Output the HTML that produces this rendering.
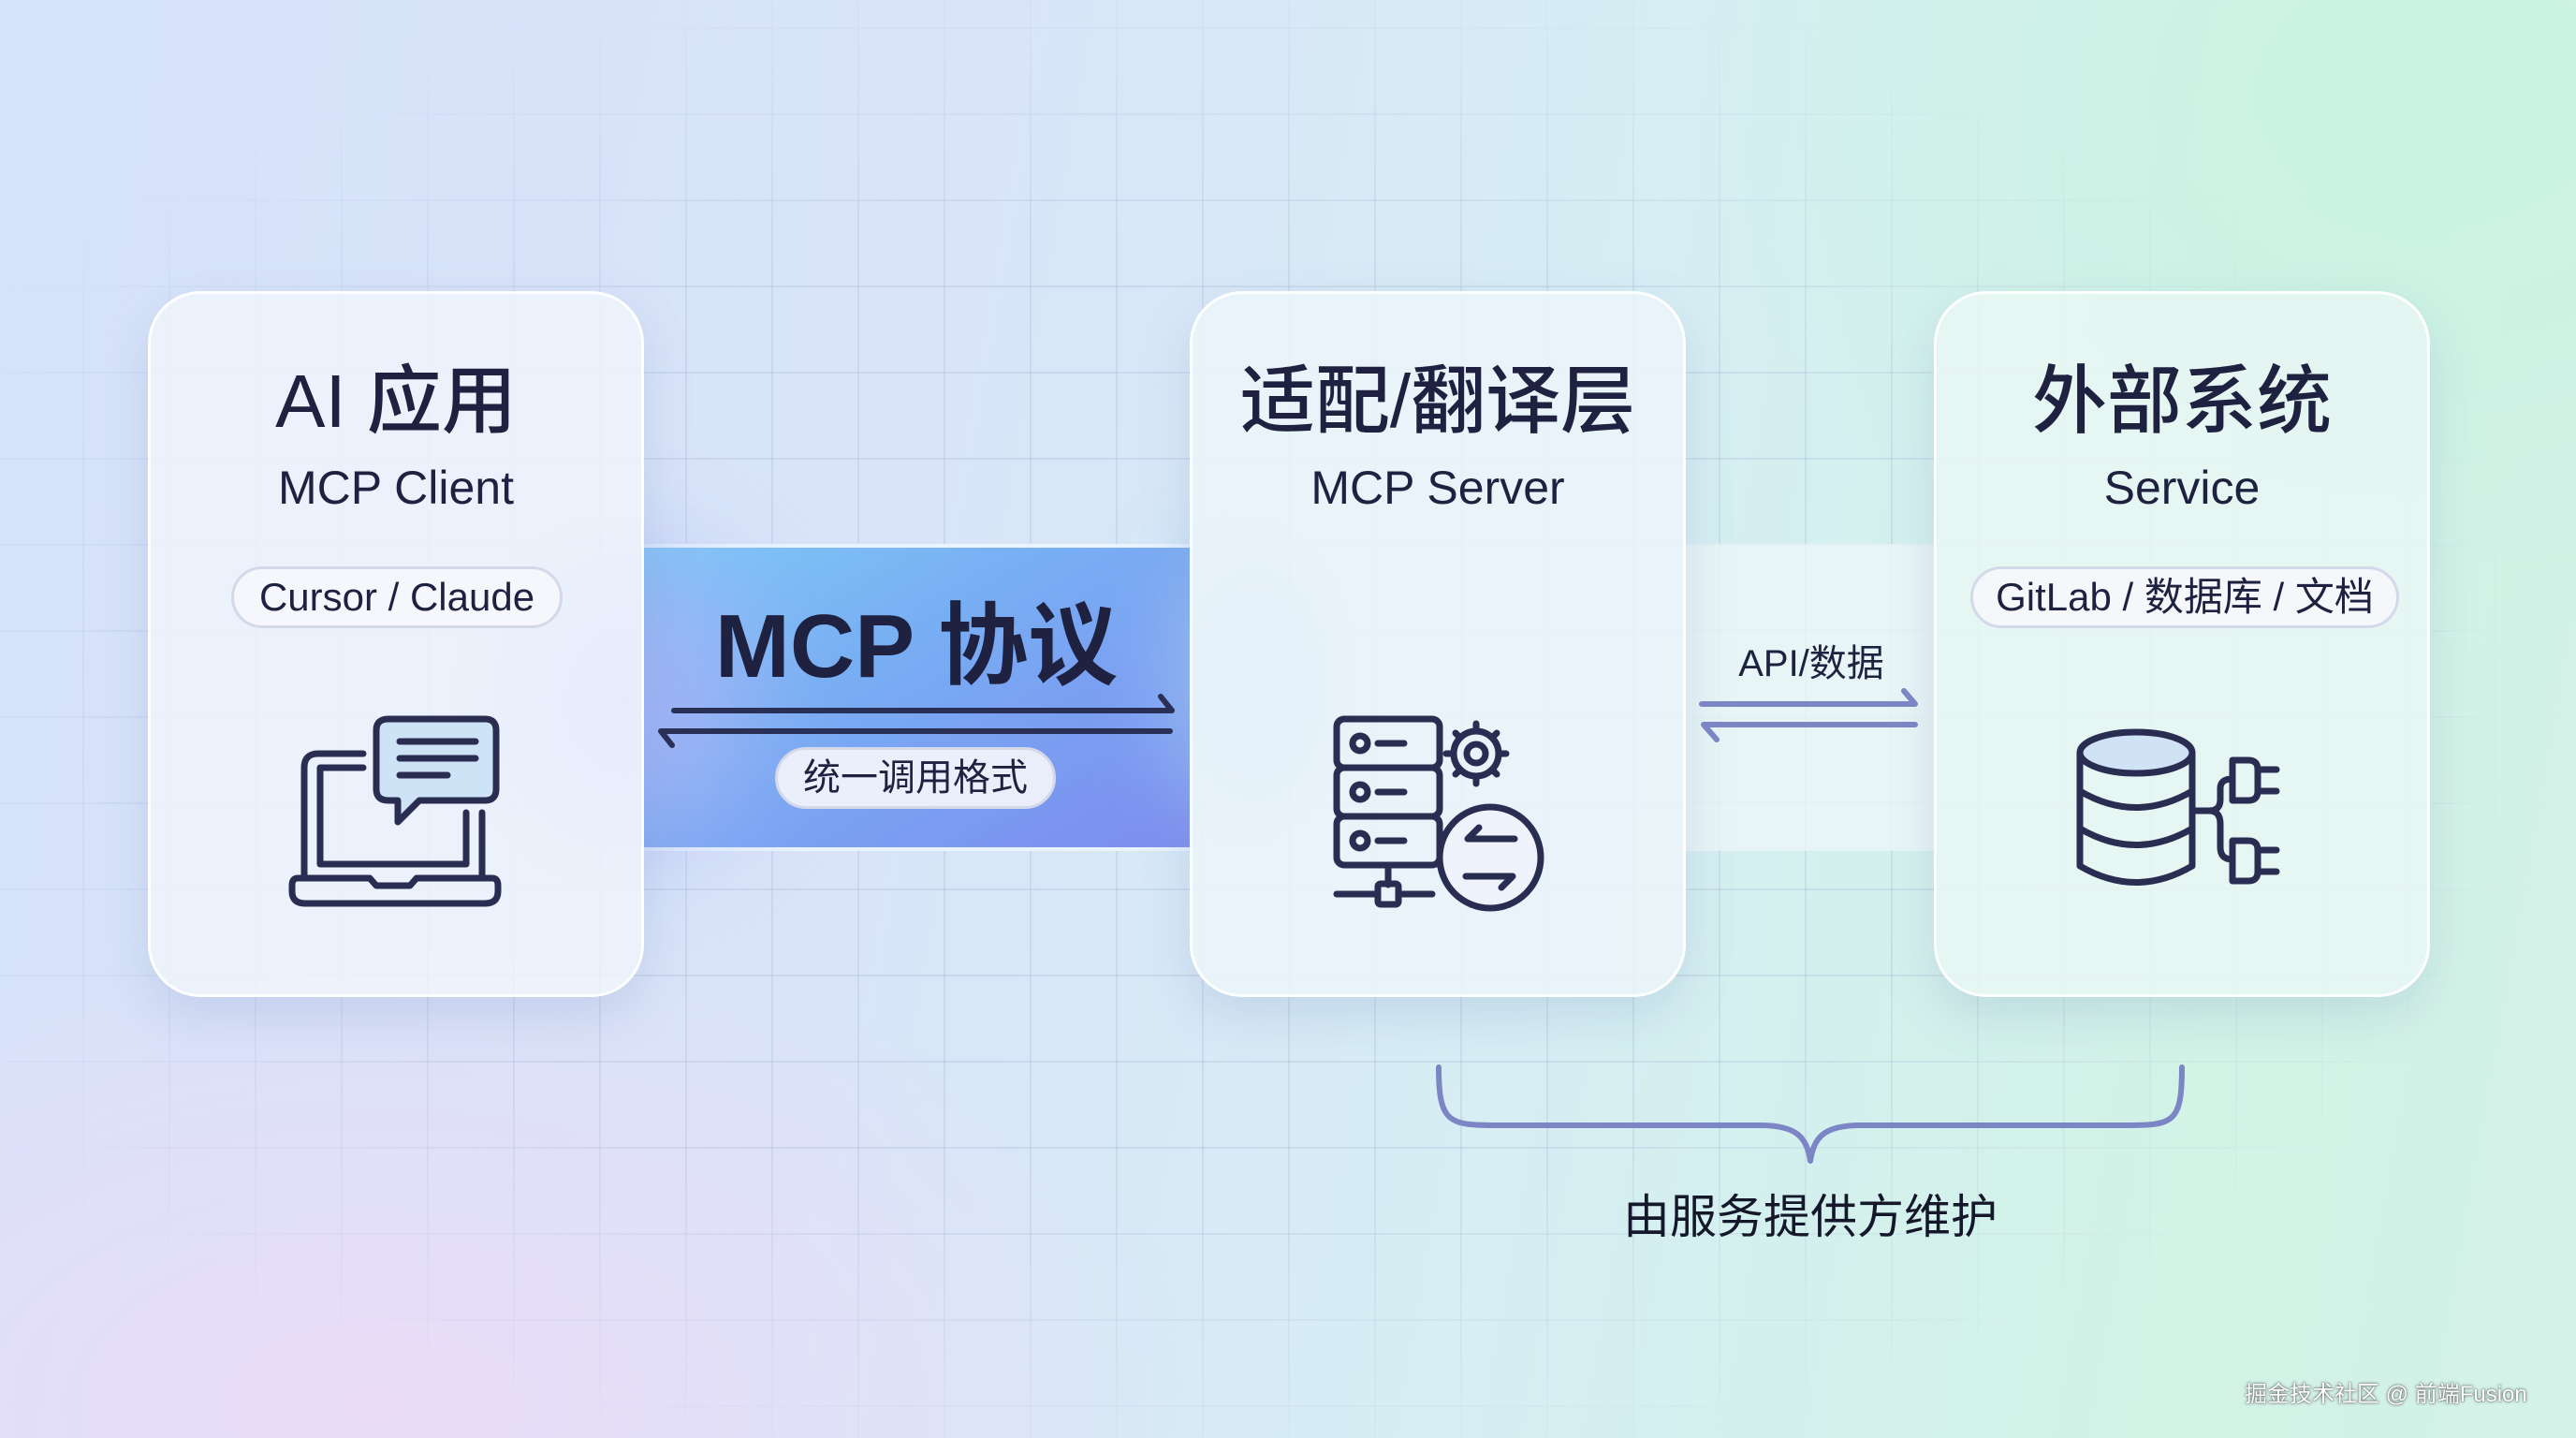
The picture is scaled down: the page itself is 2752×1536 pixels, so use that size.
<!DOCTYPE html>
<html><head><meta charset="utf-8"><style>
*{margin:0;padding:0;box-sizing:border-box}
html,body{width:2752px;height:1536px;overflow:hidden}
body{position:relative;font-family:"Liberation Sans","Noto Sans CJK SC",sans-serif;color:#1e2240;
background:linear-gradient(100deg,#d6e2fa 0%,#d9e4f8 35%,#d6eef4 60%,#d2f3e6 85%,#d4f2e8 100%);}
.bg{position:absolute;left:0;top:0;width:2752px;height:1536px;
background:radial-gradient(ellipse 900px 500px at 400px 1500px,#eadcf7,transparent),radial-gradient(ellipse 800px 600px at 2600px 100px,#c9f3e2,transparent)}
.glow{position:absolute;border-radius:50%}
.grid{position:absolute;left:0;top:0;width:2752px;height:1536px;
background-image:linear-gradient(rgba(170,185,215,.3) 2px,transparent 2px),linear-gradient(90deg,rgba(170,185,215,.3) 2px,transparent 2px);
background-size:92px 92px;background-position:88px 29px;
-webkit-mask-image:radial-gradient(ellipse 55% 55% at 45% 50%,#000 60%,transparent 100%);}
.card{position:absolute;top:311px;height:754px;width:530px;border-radius:56px;background:rgba(240,244,252,.85);border:3px solid rgba(255,255,255,.9);box-shadow:0 20px 50px rgba(120,140,190,.22);}
.t{position:absolute;left:0;width:100%;text-align:center;white-space:nowrap}
.h{top:50px;font-size:80px;font-weight:500}
.s{top:178px;font-size:50px}
.pill{position:absolute;top:291px;height:66px;border-radius:33px;border:3px solid #d4d9ea;background:rgba(246,247,252,.9);font-size:42px;line-height:60px;text-align:center;white-space:nowrap}
</style></head><body>
<div class="bg"></div>
<div class="grid"></div>
<div style="position:absolute;left:684px;top:581px;width:590px;height:328px;background:linear-gradient(150deg,#7fc7f7 0%,#78aef3 40%,#7d8cf0 100%);border-top:4px solid #e9f4ff;border-bottom:4px solid #e9f4ff"></div>
<div style="position:absolute;left:1801px;top:581px;width:268px;height:328px;background:rgba(235,246,248,.8)"></div>
<div class="glow" style="left:540px;top:600px;width:260px;height:300px;background:#aab4f6;filter:blur(60px);opacity:.8"></div>
<div class="glow" style="left:1260px;top:580px;width:160px;height:300px;background:#a8d4f8;filter:blur(50px);opacity:.8"></div>

<div class="card" style="left:158px"><div class="t h">AI 应用</div><div class="t s">MCP Client</div>
<div class="pill" style="left:86px;width:354px">Cursor / Claude</div></div>
<div class="card" style="left:1271px;background:rgba(236,244,250,.85)"><div class="t h">适配/翻译层</div><div class="t s">MCP Server</div></div>
<div class="card" style="left:2066px;background:rgba(232,246,244,.88)"><div class="t h">外部系统</div><div class="t s">Service</div>
<div class="pill" style="left:36px;width:458px">GitLab / 数据库 / 文档</div></div>

<div class="t" style="left:684px;width:590px;top:612px;font-size:96px;font-weight:700">MCP 协议</div>
<svg style="position:absolute;left:0;top:0" width="2752" height="1536">
<g stroke="#2a2f55" stroke-width="6" fill="none" stroke-linecap="round" stroke-linejoin="round">
<path d="M720 759 H1252 L1240 744"/><path d="M1250 781 H706 L718 796"/>
</g>
<g stroke="#7d86c4" stroke-width="6" fill="none" stroke-linecap="round" stroke-linejoin="round">
<path d="M1818 752 H2046 L2034 738"/><path d="M2046 774 H1820 L1834 790"/>
<path d="M1537 1140 C1537 1200 1548 1202 1600 1202 H1880 C1920 1202 1930 1215 1934 1240 C1938 1215 1948 1202 1988 1202 H2270 C2322 1202 2331 1200 2331 1140"/>
</g>
<g transform="translate(280,740)" stroke="#2a2d52" stroke-width="7" fill="none" stroke-linecap="round" stroke-linejoin="round">
<path d="M108 65 H60 Q45 65 45 80 V198"/><path d="M108 80 H62 V183 H218 V128"/><path d="M235 128 V198"/>
<path d="M38 198 H115 L122 206 H158 L165 198 H246 Q252 198 252 206 V212 Q252 225 238 225 H46 Q32 225 32 212 V206 Q32 198 38 198Z"/>
<path d="M135 28 H238 Q250 28 250 40 V103 Q250 115 238 115 H168 L145 138 V115 H135 Q122 115 122 103 V40 Q122 28 135 28Z" fill="#cfe3f6"/>
<path d="M147 52 H228 M147 70 H228 M147 88 H198"/>
</g>
<g stroke="#2a2d52" stroke-width="7" fill="none" stroke-linecap="round" stroke-linejoin="round">
<rect x="1428" y="768" width="110" height="52" rx="8"/><rect x="1428" y="820" width="110" height="52" rx="8"/><rect x="1428" y="872" width="110" height="52" rx="8"/>
<circle cx="1453" cy="794" r="8"/><circle cx="1453" cy="846" r="8"/><circle cx="1453" cy="898" r="8"/>
<path d="M1472 794 H1500 M1472 846 H1500 M1472 898 H1500 M1483 924 V945 M1428 955 H1472 M1494 955 H1530"/>
<rect x="1472" y="944" width="22" height="22" rx="3"/>
<circle cx="1577" cy="805" r="24"/><circle cx="1577" cy="805" r="10"/>
<path d="M1577 773 V781 M1577 829 V837 M1545 805 H1553 M1601 805 H1609 M1555 783 L1560 788 M1594 822 L1599 827 M1599 783 L1594 788 M1555 827 L1560 822"/>
<circle cx="1592" cy="916" r="54" fill="#eef3fb"/>
<path d="M1618 896 H1568 L1580 884 M1566 936 H1616 L1604 948"/>
</g>
<g stroke="#2a2d52" stroke-width="7" fill="none" stroke-linecap="round" stroke-linejoin="round">
<ellipse cx="2282" cy="804" rx="60" ry="22" fill="#cfe2f6"/>
<path d="M2222 804 V925 Q2282 960 2342 925 V804"/>
<path d="M2222 845 Q2282 880 2342 845 M2222 885 Q2282 920 2342 885"/>
<path d="M2342 866 H2360 Q2372 866 2372 854 V842 Q2372 832 2385 832 M2342 866 H2360 Q2372 866 2372 880 V905 Q2372 918 2385 918"/>
<path d="M2385 812 H2402 Q2412 812 2412 822 V845 Q2412 855 2402 855 H2385Z M2412 822 H2432 M2412 845 H2432"/>
<path d="M2385 898 H2402 Q2412 898 2412 908 V931 Q2412 941 2402 941 H2385Z M2412 908 H2432 M2412 931 H2432"/>
</g>
</svg>
<div class="pill" style="left:828px;top:798px;width:300px;font-size:40px">统一调用格式</div>
<div class="t" style="left:1801px;width:268px;top:676px;font-size:40px">API/数据</div>
<div class="t" style="left:1634px;width:600px;top:1260px;font-size:50px;color:#15182a">由服务提供方维护</div>
<div style="position:absolute;left:2398px;top:1469px;font-size:24px;color:#fff;text-shadow:0 0 3px #555,0 0 1px #333;white-space:nowrap">掘金技术社区 @ 前端Fusion</div>
</body></html>
